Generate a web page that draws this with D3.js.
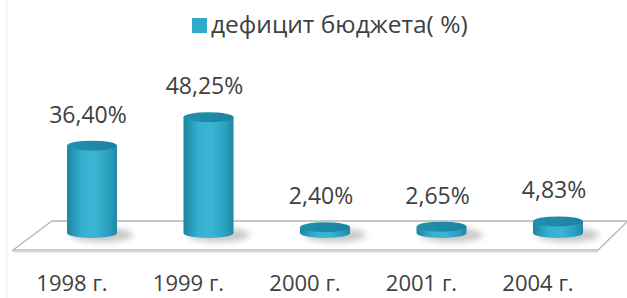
<!DOCTYPE html>
<html><head><meta charset="utf-8">
<script src="https://cdn.jsdelivr.net/npm/d3@7"></script>
<style>body{margin:0;background:#fff}svg{display:block}</style>
</head><body>
<svg id="c" width="627" height="298"></svg>
<script>
const categories = ["1998 г.", "1999 г.", "2000 г.", "2001 г.", "2004 г."];
const values = [36.40, 48.25, 2.40, 2.65, 4.83];
const valueLabels = ["36,40%", "48,25%", "2,40%", "2,65%", "4,83%"];
const seriesName = "дефицит бюджета( %)";

const svg = d3.select("#c");
const W = 627, H = 298;
const font = "'Open Sans', sans-serif";
const textColor = "#404040";

const x = d3.scalePoint().domain(categories).range([92, 558]);
const y = d3.scaleLinear().domain([0, 50]).range([233, 113]);
const rx = 25, ry = 5;

const defs = svg.append("defs");
const g1 = defs.append("linearGradient").attr("id", "side").attr("x1", 0).attr("x2", 1).attr("y1", 0).attr("y2", 0);
[[0, "#1c86a3"], [0.3, "#35b0cf"], [0.55, "#3ab6d4"], [0.85, "#2a9ebd"], [1, "#1f88a5"]].forEach(([o, c]) => g1.append("stop").attr("offset", o).attr("stop-color", c));
const g2 = defs.append("linearGradient").attr("id", "top").attr("x1", 0).attr("x2", 1).attr("y1", 0).attr("y2", 0);
[[0, "#2290ae"], [1, "#1c82a0"]].forEach(([o, c]) => g2.append("stop").attr("offset", o).attr("stop-color", c));
const fl = defs.append("filter").attr("id", "blur").attr("x", "-50%").attr("y", "-100%").attr("width", "200%").attr("height", "300%");
fl.append("feGaussianBlur").attr("stdDeviation", 3);

// faint left border
svg.append("line").attr("x1", 7).attr("x2", 7).attr("y1", 0).attr("y2", H).attr("stroke", "#eeeeee");

// legend
const lg = svg.append("g");
lg.append("rect").attr("x", 192).attr("y", 18).attr("width", 15).attr("height", 15).attr("fill", "#31a9c8");
lg.append("text").attr("x", 211).attr("y", 33).attr("font-family", font).attr("font-size", 24.5)
  .attr("fill", textColor).text(seriesName);

// floor
const floorY0 = y(0);
const floor = [[13, 250], [598, 250], [628, 221], [52, 221]];
svg.append("path").attr("d", "M" + floor.map(p => p.join(",")).join("L") + "Z")
  .attr("fill", "#ffffff").attr("stroke", "#b5b5b5").attr("stroke-width", 1.3);
svg.append("line").attr("x1", 13).attr("x2", 598).attr("y1", 251.5).attr("y2", 251.5).attr("stroke", "#d8d8d8").attr("stroke-width", 2);

// shadows
svg.selectAll(".shadow").data(values).join("ellipse")
  .attr("cx", (d, i) => x(categories[i]) + 10).attr("cy", floorY0 + 2)
  .attr("rx", rx + 6).attr("ry", ry + 2).attr("fill", "#9a9a9a").attr("opacity", 0.55)
  .attr("filter", "url(#blur)");

// cylinders
const cyl = svg.selectAll(".cyl").data(values).join("g");
cyl.append("path")
  .attr("d", (d, i) => {
    const cx = x(categories[i]), yt = y(d), yb = y(0);
    return `M${cx - rx},${yt} L${cx - rx},${yb} A${rx},${ry} 0 0 0 ${cx + rx},${yb} L${cx + rx},${yt} Z`;
  })
  .attr("fill", "url(#side)");
cyl.append("ellipse")
  .attr("cx", (d, i) => x(categories[i])).attr("cy", d => y(d))
  .attr("rx", rx).attr("ry", ry).attr("fill", "url(#top)");

// value labels
svg.selectAll(".vl").data(values).join("text")
  .attr("x", (d, i) => x(categories[i]) - 4).attr("y", d => y(d) - ry - 18)
  .attr("text-anchor", "middle").attr("font-family", font).attr("font-size", 23)
  .attr("fill", textColor).text((d, i) => valueLabels[i]);

// category labels
svg.selectAll(".cl").data(categories).join("text")
  .attr("x", d => x(d) - 20).attr("y", 291)
  .attr("text-anchor", "middle").attr("font-family", font).attr("font-size", 22)
  .attr("fill", textColor).text(d => d);
</script>
</body></html>
